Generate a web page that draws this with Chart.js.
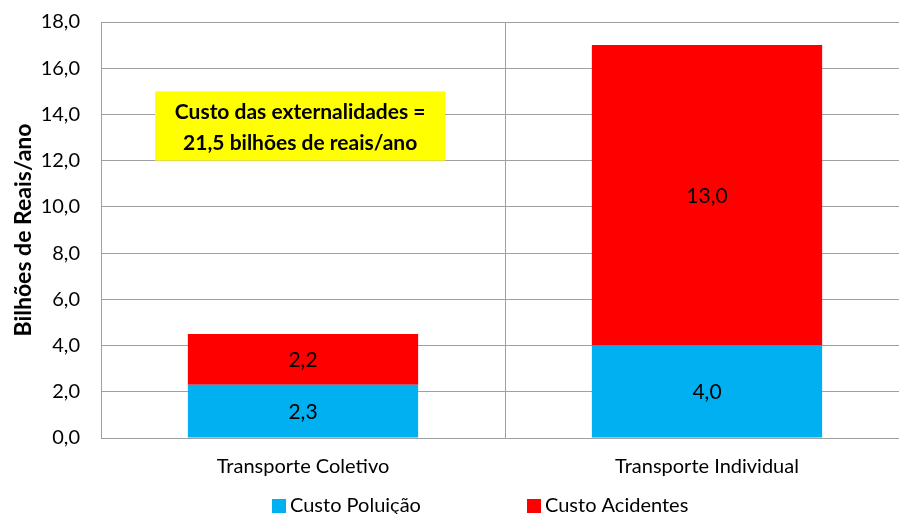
<!DOCTYPE html>
<html>
<head>
<meta charset="utf-8">
<script src="https://cdn.jsdelivr.net/npm/chart.js@4/dist/chart.umd.min.js"></script>
<style>
    html, body { margin: 0; padding: 0; background: #fff; overflow: hidden; }
    #wrap { width: 899px; height: 514px; overflow: hidden; position: relative; }
    #box { width: 918px; height: 525px; margin-top: -11px; }
</style>
</head>
<body>
<div id="wrap"><div id="box"><canvas id="chart"></canvas></div></div>
<script>
// --- Data ---
const categories = ['Transporte Coletivo', 'Transporte Individual'];
const poluicao = [2.3, 4.0];
const acidentes = [2.2, 13.0];
const seriesNames = ['Custo Poluição', 'Custo Acidentes'];
const seriesColors = ['#00B0F0', '#FF0000'];

const FONT = "Lato, 'Open Sans', sans-serif";
const fmt = v => v.toFixed(1).replace('.', ',');

const total = [...poluicao, ...acidentes].reduce((s, v) => s + v, 0);

// value labels inside each segment
const valueLabels = {
    id: 'valueLabels',
    afterDatasetsDraw(chart) {
        const ctx = chart.ctx;
        ctx.save();
        ctx.font = `21px ${FONT}`;
        ctx.fillStyle = '#000';
        ctx.textAlign = 'center';
        ctx.textBaseline = 'middle';
        chart.data.datasets.forEach((ds, i) => {
            chart.getDatasetMeta(i).data.forEach((bar, j) => {
                const y = (bar.y + bar.base) / 2;
                ctx.fillText(fmt(ds.data[j]), bar.x, y + 1);
            });
        });
        ctx.restore();
    }
};

// yellow note box
const noteBox = {
    id: 'noteBox',
    afterDatasetsDraw(chart) {
        const { ctx, chartArea, scales } = chart;
        const catW = (chartArea.right - chartArea.left) / categories.length;
        const left = chartArea.left + catW * 0.134;
        const right = chartArea.left + catW * 0.852;
        const top = scales.y.getPixelForValue(15.0);
        const bottom = scales.y.getPixelForValue(12.0);
        ctx.save();
        ctx.fillStyle = '#FFFF00';
        ctx.fillRect(left, top, right - left, bottom - top);
        ctx.fillStyle = '#000';
        ctx.font = `bold 21px ${FONT}`;
        ctx.textAlign = 'center';
        ctx.textBaseline = 'middle';
        const cx = (left + right) / 2;
        const cy = (top + bottom) / 2;
        ctx.fillText('Custo das externalidades =', cx, cy - 14);
        ctx.fillText(fmt(total) + ' bilhões de reais/ano', cx, cy + 17);
        ctx.restore();
    }
};

// legend drawn below the axis labels
const bottomLegend = {
    id: 'bottomLegend',
    afterDraw(chart) {
        const ctx = chart.ctx;
        const starts = [272, 527];
        const y = 517;
        ctx.save();
        ctx.font = `20px ${FONT}`;
        ctx.textBaseline = 'middle';
        ctx.textAlign = 'left';
        seriesNames.forEach((name, i) => {
            ctx.fillStyle = seriesColors[i];
            ctx.fillRect(starts[i], y - 7, 14, 14);
            ctx.fillStyle = '#000';
            ctx.fillText(name, starts[i] + 18, y);
        });
        ctx.restore();
    }
};

new Chart(document.getElementById('chart'), {
    type: 'bar',
    data: {
        labels: categories,
        datasets: [
            { label: seriesNames[0], data: poluicao, backgroundColor: seriesColors[0] },
            { label: seriesNames[1], data: acidentes, backgroundColor: seriesColors[1] }
        ]
    },
    options: {
        responsive: true,
        maintainAspectRatio: false,
        animation: false,
        categoryPercentage: 1,
        barPercentage: 0.57,
        layout: { padding: { top: 4, right: 9, bottom: 18, left: 10 } },
        plugins: {
            legend: { display: false },
            tooltip: { enabled: false }
        },
        scales: {
            x: {
                stacked: true,
                grid: { color: '#A0A0A0', drawTicks: false, offset: true },
                border: { color: '#A0A0A0' },
                ticks: { color: '#000', font: { family: FONT, size: 20 }, padding: 17 }
            },
            y: {
                stacked: true,
                min: 0,
                max: 18,
                afterFit: scale => { scale.width = 91; },
                ticks: {
                    stepSize: 2,
                    color: '#000',
                    font: { family: FONT, size: 20 },
                    padding: 21,
                    callback: v => fmt(v)
                },
                grid: { color: '#A0A0A0', drawTicks: false },
                border: { color: '#A0A0A0' },
                title: {
                    display: true,
                    text: 'Bilhões de Reais/ano',
                    color: '#000',
                    font: { family: FONT, size: 23, weight: 'bold' },
                    padding: { top: 0, bottom: 0 }
                }
            }
        }
    },
    plugins: [valueLabels, noteBox, bottomLegend]
});
</script>
</body>
</html>
